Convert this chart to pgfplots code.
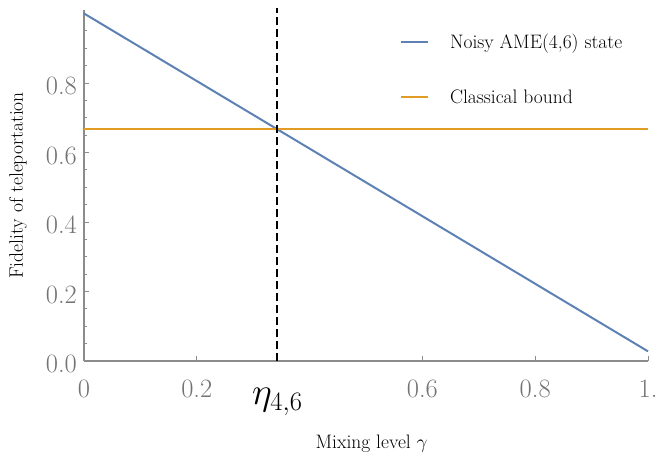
\RequirePackage{fix-cm}
\documentclass[border=0pt]{standalone}
\usepackage{pgfplots}
\pgfplotsset{compat=1.18}
\definecolor{mblue}{rgb}{0.368417,0.506779,0.709798}
\definecolor{morange}{rgb}{0.880722,0.611041,0.142051}
\definecolor{axgray}{gray}{0.55}
\definecolor{lblgray}{gray}{0.45}
\begin{document}
\begin{tikzpicture}
\begin{axis}[
  scale only axis,
  width=564pt, height=351pt,
  xmin=0, xmax=1, ymin=0, ymax=1.01,
  axis lines*=left,
  axis line style={axgray, line width=1.1pt},
  every tick/.style={axgray, line width=0.9pt},
  major tick length=5pt, minor tick length=3pt,
  clip=false,
  xtick={0,0.2,0.342857,0.6,0.8,1},
  xticklabels={0,0.2,{\fontsize{38}{40}\selectfont\color{black}\raisebox{-8pt}[\height]{$\eta_{4,6}$}},0.6,0.8,1.},
  ytick={0,0.2,0.4,0.6,0.8},
  yticklabels={0.0,0.2,0.4,0.6,0.8},
  minor ytick={0.05,0.1,0.15,0.25,0.3,0.35,0.45,0.5,0.55,0.65,0.7,0.75,0.85,0.9,0.95},
  xticklabel style={font=\fontsize{26.5}{30}\selectfont, text=lblgray, inner sep=0pt, anchor=north, yshift=-19pt},
  yticklabel style={font=\fontsize{26.5}{30}\selectfont, text=lblgray, inner sep=0pt, anchor=east, xshift=-7pt, yshift=-3pt},
  xlabel={Mixing level $\gamma$},
  ylabel={Fidelity of teleportation},
  xlabel style={font=\fontsize{19.5}{22}\selectfont, at={(axis description cs:0.51,0)}, anchor=base, yshift=-87pt},
  ylabel style={font=\fontsize{19.5}{22}\selectfont, at={(axis description cs:-0.117,0.5)}, anchor=center},
  legend style={draw=none, fill=none, inner sep=0pt, at={(rel axis cs:0.56,0.933)}, anchor=north west,
    font=\fontsize{19.5}{22}\selectfont, row sep=40pt, column sep=21pt, nodes={inner sep=0pt}},
  legend cell align=left,
  legend image code/.code={\draw[#1] (0pt,0pt) -- (27pt,0pt);},
]
\addplot[mblue, line width=2pt] coordinates {(0,1) (1,0.027778)};
\addlegendentry{Noisy AME(4,6) state}
\addplot[morange, line width=2pt] coordinates {(0,0.666667) (1,0.666667)};
\addlegendentry{Classical bound}
\addplot[black, line width=1.8pt, dash pattern=on 8pt off 4pt, forget plot] coordinates {(0.342857,0) (0.342857,1.015)};
\path (rel axis cs:0,0) ++(-84pt,-90pt) rectangle (rel axis cs:1,1) ++(10pt,10pt);
\end{axis}
\end{tikzpicture}
\end{document}
